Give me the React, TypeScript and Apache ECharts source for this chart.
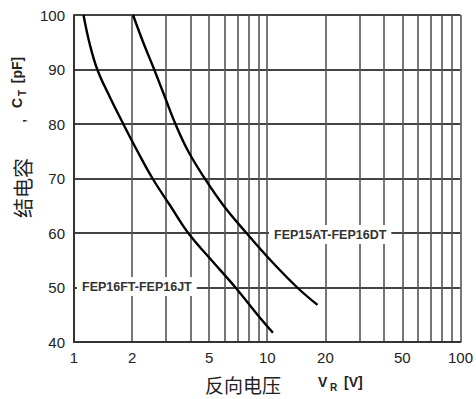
import React, { useEffect, useRef } from "react";
import * as echarts from "echarts";

// Reverse voltage V_R [V]
const leftV = [1.12, 1.2, 1.32, 1.53, 1.8, 2.13, 2.55, 3.15, 3.9, 5.15, 6.85, 8.9, 10.7];
// Junction capacitance C_T [pF]
const leftC = [100, 95, 90, 85, 80, 75, 70, 65, 60, 55, 50, 45, 41.7];

const rightV = [2.02, 2.28, 2.6, 2.95, 3.35, 3.9, 4.75, 5.95, 7.8, 10.4, 14.3, 18.2];
const rightC = [100, 95, 90, 85, 80, 75, 70, 65, 60, 55, 50, 46.8];

const leftName = "FEP16FT-FEP16JT";
const rightName = "FEP15AT-FEP16DT";

const xGridValues = [1, 2, 3, 4, 5, 6, 7, 8, 9, 10, 20, 30, 40, 50, 60, 70, 80, 90, 100];
const xLabelValues = [1, 2, 5, 10, 20, 50, 100];

const FONT = "Liberation Sans, Arial, sans-serif";
const TXT = "#222";

export default function App() {
  const ref = useRef<HTMLDivElement>(null);
  useEffect(() => {
    if (!ref.current) return;
    const chart = echarts.init(ref.current, null, { renderer: "svg" });
    const toPairs = (xs: number[], ys: number[]) => xs.map((x, i) => [x, ys[i]]);
    chart.setOption({
      animation: false,
      backgroundColor: "#fff",
      grid: { left: 74, top: 15, right: 13, bottom: 57, containLabel: false },
      xAxis: {
        type: "log",
        logBase: 10,
        min: 1,
        max: 100,
        axisLine: { show: true, lineStyle: { color: "#333", width: 2 } },
        axisTick: { show: false, customValues: xGridValues },
        axisLabel: {
          customValues: xLabelValues,
          interval: 0,
          hideOverlap: false,
          color: TXT,
          fontSize: 15,
          fontFamily: FONT,
          margin: 8,
        },
        splitLine: { show: true, lineStyle: { color: "#555", width: 1.6 } },
      },
      yAxis: {
        type: "value",
        min: 40,
        max: 100,
        interval: 10,
        axisLine: { show: true, lineStyle: { color: "#333", width: 2 } },
        axisTick: { show: false },
        axisLabel: { color: TXT, fontSize: 15, fontFamily: FONT, margin: 9 },
        splitLine: { show: true, lineStyle: { color: "#444", width: 1.8 } },
      },
      series: [
        {
          name: leftName,
          type: "line",
          data: toPairs(leftV, leftC),
          symbol: "none",
          smooth: 0.4,
          lineStyle: { color: "#000", width: 2.4 },
          z: 5,
        },
        {
          name: rightName,
          type: "line",
          data: toPairs(rightV, rightC),
          symbol: "none",
          smooth: 0.4,
          lineStyle: { color: "#000", width: 2.4 },
          z: 5,
        },
      ],
      graphic: [
        {
          type: "text",
          left: 77,
          top: 277,
          z: 10,
          style: {
            text: leftName,
            fontSize: 12.5,
            fontWeight: "bold",
            fontFamily: FONT,
            fill: "#333",
            backgroundColor: "#fff",
            padding: [3, 5],
          },
        },
        {
          type: "text",
          left: 269,
          top: 225,
          z: 10,
          style: {
            text: rightName,
            fontSize: 12.5,
            fontWeight: "bold",
            fontFamily: FONT,
            fill: "#333",
            backgroundColor: "#fff",
            padding: [3, 5],
          },
        },
        // x-axis title
        {
          type: "text",
          x: 243,
          y: 384,
          style: {
            text: "反向电压",
            fontSize: 19,
            fontFamily: "Noto Sans CJK SC",
            fill: TXT,
            align: "center",
            verticalAlign: "middle",
          },
        },
        {
          type: "text",
          x: 318,
          y: 382,
          style: {
            text: "V",
            fontSize: 14,
            fontWeight: "bold",
            fontFamily: FONT,
            fill: TXT,
            align: "left",
            verticalAlign: "middle",
          },
        },
        {
          type: "text",
          x: 330,
          y: 387,
          style: {
            text: "R",
            fontSize: 10,
            fontWeight: "bold",
            fontFamily: FONT,
            fill: TXT,
            align: "left",
            verticalAlign: "middle",
          },
        },
        {
          type: "text",
          x: 344,
          y: 382,
          style: {
            text: "[V]",
            fontSize: 14,
            fontWeight: "bold",
            fontFamily: FONT,
            fill: TXT,
            align: "left",
            verticalAlign: "middle",
          },
        },
        // y-axis title (rotated, reads bottom to top)
        {
          type: "text",
          x: 22,
          y: 188,
          rotation: Math.PI / 2,
          style: {
            text: "结电容",
            fontSize: 20,
            fontFamily: "Noto Sans CJK SC",
            fill: TXT,
            align: "center",
            verticalAlign: "middle",
          },
        },
        {
          type: "text",
          x: 20,
          y: 121,
          rotation: Math.PI / 2,
          style: {
            text: ",",
            fontSize: 13,
            fontWeight: "bold",
            fontFamily: FONT,
            fill: TXT,
            align: "center",
            verticalAlign: "middle",
          },
        },
        {
          type: "text",
          x: 17,
          y: 103,
          rotation: Math.PI / 2,
          style: {
            text: "C",
            fontSize: 14,
            fontWeight: "bold",
            fontFamily: FONT,
            fill: TXT,
            align: "center",
            verticalAlign: "middle",
          },
        },
        {
          type: "text",
          x: 22,
          y: 93,
          rotation: Math.PI / 2,
          style: {
            text: "T",
            fontSize: 10,
            fontWeight: "bold",
            fontFamily: FONT,
            fill: TXT,
            align: "center",
            verticalAlign: "middle",
          },
        },
        {
          type: "text",
          x: 17,
          y: 70,
          rotation: Math.PI / 2,
          style: {
            text: "[pF]",
            fontSize: 14,
            fontWeight: "bold",
            fontFamily: FONT,
            fill: TXT,
            align: "center",
            verticalAlign: "middle",
          },
        },
      ],
    });
    return () => chart.dispose();
  }, []);
  return (
    <div
      ref={ref}
      style={{ position: "fixed", left: 0, top: 0, width: 476, height: 399 }}
    />
  );
}
